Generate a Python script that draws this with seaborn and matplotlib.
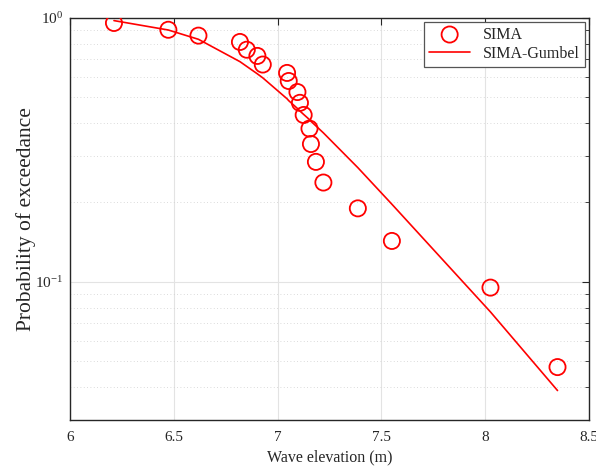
import numpy as np
import pandas as pd
import matplotlib
matplotlib.use("Agg")
import matplotlib.pyplot as plt
import seaborn as sns
from matplotlib.ticker import LogLocator, NullFormatter

# Empirical exceedance of wave elevation from SIMA
sima_x = [6.212, 6.474, 6.619, 6.819, 6.852, 6.903, 6.929, 7.046, 7.054,
          7.096, 7.108, 7.126, 7.154, 7.161, 7.185, 7.221, 7.387, 7.551,
          8.026, 8.349]
sima_p = [0.957, 0.902, 0.857, 0.811, 0.758, 0.718, 0.666, 0.619, 0.577,
          0.524, 0.477, 0.429, 0.381, 0.333, 0.285, 0.238, 0.190, 0.143,
          0.0952, 0.0476]

# Fitted Gumbel exceedance evaluated at the same elevations
gumbel_p = [0.977, 0.900, 0.830, 0.683, 0.655, 0.614, 0.593, 0.494, 0.486,
            0.454, 0.444, 0.431, 0.412, 0.406, 0.390, 0.367, 0.271, 0.197,
            0.0770, 0.0388]

x_ticks = [6, 6.5, 7, 7.5, 8, 8.5]
x_tick_labels = ["6", "6.5", "7", "7.5", "8", "8.5"]

df = pd.DataFrame({"x": sima_x, "sima": sima_p, "gumbel": gumbel_p})

sns.set_theme(style="white")
plt.rcParams["font.family"] = ["Liberation Serif", "DejaVu Serif"]
plt.rcParams["mathtext.fontset"] = "stix"

fig = plt.figure(figsize=(5.96, 4.67), dpi=100)
ax = fig.add_axes([0.1174, 0.1006, 0.8706, 0.861])

red = "#ff0000"
text_col = "#262626"
sns.scatterplot(data=df, x="x", y="sima", ax=ax, marker="o", s=135,
                facecolors="none", edgecolor=red, linewidth=1.3,
                label="SIMA", zorder=3)
sns.lineplot(data=df, x="x", y="gumbel", ax=ax, color=red, linewidth=1.2,
             label="SIMA-Gumbel", zorder=2)

ax.set_yscale("log")
ax.set_xlim(6, 8.5)
ax.set_ylim(0.03, 1.0)
ax.set_xticks(x_ticks)
ax.set_xticklabels(x_tick_labels)
ax.yaxis.set_major_locator(LogLocator(base=10, numticks=10))
ax.yaxis.set_minor_locator(LogLocator(base=10, subs=np.arange(2, 10), numticks=20))
ax.yaxis.set_minor_formatter(NullFormatter())

ax.grid(True, which="major", axis="both", color="#e3e3e3", linestyle="-", linewidth=0.8)
ax.grid(True, which="minor", axis="y", color="#cfcfcf", linestyle=(0, (1, 3)), linewidth=0.6)
ax.set_axisbelow(True)

for side in ["top", "bottom", "left", "right"]:
    ax.spines[side].set_visible(True)
    ax.spines[side].set_color(text_col)
    ax.spines[side].set_linewidth(1.0)

ax.tick_params(axis="both", which="both", direction="in", top=True, right=True,
               colors=text_col, labelcolor=text_col)
ax.tick_params(axis="both", which="major", length=5, width=0.8, labelsize=11)
ax.tick_params(axis="x", which="major", pad=8)
ax.tick_params(axis="y", which="major", pad=5)
ax.tick_params(axis="y", which="minor", length=3, width=0.6)

ax.set_xlabel("Wave elevation (m)", fontsize=11.5, color=text_col, labelpad=4)
ax.set_ylabel("Probability of exceedance", fontsize=15.5, color=text_col, labelpad=-1)

leg = ax.legend(loc="upper right", fontsize=11.5, frameon=True, fancybox=False,
                edgecolor="#555555", framealpha=1, borderaxespad=0.25,
                handlelength=2.6, borderpad=0.3, labelspacing=0.2)
leg.get_frame().set_linewidth(0.9)

fig.savefig("out.png", dpi=100)
